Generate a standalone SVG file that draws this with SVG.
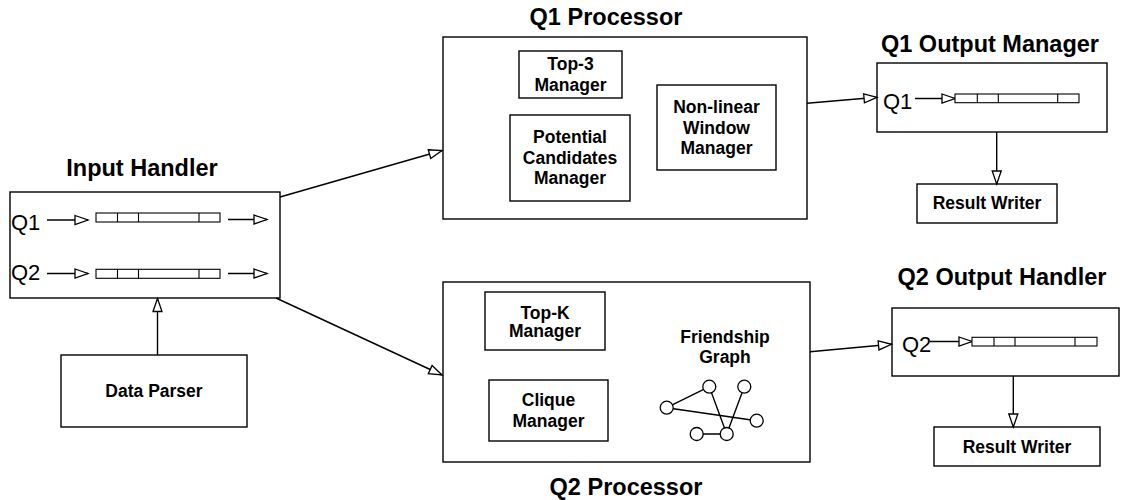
<svg xmlns="http://www.w3.org/2000/svg" width="1121" height="500" viewBox="0 0 1121 500">
<style>
.box{fill:#fff;stroke:#000;stroke-width:1.4}
.q{fill:#fff;stroke:#000;stroke-width:1.1}
.ln{fill:none;stroke:#000;stroke-width:1.4}
.title{font-family:"Liberation Sans",Arial,sans-serif;font-weight:bold;font-size:23.5px;text-anchor:middle;fill:#000}
.lbl{font-family:"Liberation Sans",Arial,sans-serif;font-weight:bold;font-size:17.5px;text-anchor:middle;fill:#000}
.ql{font-family:"Liberation Sans",Arial,sans-serif;font-size:22px;fill:#000}
.nd{fill:#fff;stroke:#000;stroke-width:1.3}
</style>
<defs>
<marker id="arr" markerUnits="userSpaceOnUse" markerWidth="15" markerHeight="11" refX="13" refY="4.5" orient="auto" overflow="visible">
<path d="M0,0 L13,4.5 L0,9 Z" fill="#fff" stroke="#000" stroke-width="1.3"/>
</marker>
</defs>
<rect width="1121" height="500" fill="#fff"/>

<g id="input-handler">
<text class="title" x="142" y="176">Input Handler</text>
<rect class="box" x="10" y="192" width="270" height="106"/>
<text class="ql" x="11" y="230">Q1</text>
<text class="ql" x="11" y="280">Q2</text>
<line class="ln" x1="47" y1="220" x2="88" y2="220" marker-end="url(#arr)"/>
<line class="ln" x1="47" y1="273.5" x2="88" y2="273.5" marker-end="url(#arr)"/>
<rect class="q" x="96" y="213" width="124" height="9"/>
<path class="q" d="M117.5,213v9M138.5,213v9M199,213v9"/>
<rect class="q" x="96" y="269.3" width="124" height="9"/>
<path class="q" d="M117.5,269.3v9M138.5,269.3v9M199,269.3v9"/>
<line class="ln" x1="228" y1="219.5" x2="267" y2="219.5" marker-end="url(#arr)"/>
<line class="ln" x1="228" y1="273.5" x2="267" y2="273.5" marker-end="url(#arr)"/>
</g>

<g id="data-parser">
<rect class="box" x="61" y="355" width="186" height="72"/>
<text class="lbl" x="154" y="397">Data Parser</text>
</g>

<g id="q1-processor">
<text class="title" x="606" y="25">Q1 Processor</text>
<rect class="box" x="443" y="37" width="364" height="182"/>
<rect class="box" x="519" y="51" width="103" height="47"/>
<text class="lbl" x="570.5" y="70">Top-3</text>
<text class="lbl" x="570.5" y="91">Manager</text>
<rect class="box" x="510" y="115" width="120" height="86"/>
<text class="lbl" x="570" y="143">Potential</text>
<text class="lbl" x="570" y="163.5">Candidates</text>
<text class="lbl" x="570" y="184">Manager</text>
<rect class="box" x="657" y="85" width="119" height="85"/>
<text class="lbl" x="716.5" y="113">Non-linear</text>
<text class="lbl" x="716.5" y="134">Window</text>
<text class="lbl" x="716.5" y="154">Manager</text>
</g>

<g id="q2-processor">
<text class="title" x="626" y="495">Q2 Processor</text>
<rect class="box" x="443" y="282" width="367" height="180"/>
<rect class="box" x="485" y="292" width="120" height="58"/>
<text class="lbl" x="545" y="319">Top-K</text>
<text class="lbl" x="545" y="337">Manager</text>
<rect class="box" x="489" y="380" width="119" height="61"/>
<text class="lbl" x="548.5" y="406">Clique</text>
<text class="lbl" x="548.5" y="426.5">Manager</text>
<text class="lbl" x="725" y="343">Friendship</text>
<text class="lbl" x="725" y="363">Graph</text>
<g id="friendship-graph">
<path class="ln" d="M666.7,407.7L709.3,386.7M666.7,407.7L756.7,420.7M709.3,386.7L726.7,434M744.3,386.7L726.7,434M696.7,434L726.7,434"/>
<circle class="nd" cx="709.3" cy="386.7" r="6.5"/>
<circle class="nd" cx="744.3" cy="386.7" r="6.5"/>
<circle class="nd" cx="666.7" cy="407.7" r="6.5"/>
<circle class="nd" cx="756.7" cy="420.7" r="6.5"/>
<circle class="nd" cx="696.7" cy="434" r="6.5"/>
<circle class="nd" cx="726.7" cy="434" r="6.5"/>
</g>
</g>

<g id="q1-output-manager">
<text class="title" x="990" y="52">Q1 Output Manager</text>
<rect class="box" x="877" y="63" width="230" height="69"/>
<text class="ql" x="883" y="109">Q1</text>
<line class="ln" x1="915" y1="98.5" x2="955" y2="98.5" marker-end="url(#arr)"/>
<rect class="q" x="955" y="94" width="124" height="8.7"/>
<path class="q" d="M977.3,94v8.7M998.3,94v8.7M1057.7,94v8.7"/>
</g>

<g id="q1-result-writer">
<rect class="box" x="917" y="184" width="140" height="39"/>
<text class="lbl" x="987" y="208.5">Result Writer</text>
</g>

<g id="q2-output-handler">
<text class="title" x="1002" y="285">Q2 Output Handler</text>
<rect class="box" x="892" y="308" width="227" height="68"/>
<text class="ql" x="902" y="352">Q2</text>
<line class="ln" x1="930" y1="341.5" x2="972" y2="341.5" marker-end="url(#arr)"/>
<rect class="q" x="972" y="337.3" width="125" height="8.7"/>
<path class="q" d="M994,337.3v8.7M1015,337.3v8.7M1075,337.3v8.7"/>
</g>

<g id="q2-result-writer">
<rect class="box" x="934" y="427" width="166" height="39"/>
<text class="lbl" x="1017" y="453">Result Writer</text>
</g>

<g id="connectors">
<line class="ln" x1="157.5" y1="355" x2="157.5" y2="298.5" marker-end="url(#arr)"/>
<line class="ln" x1="280" y1="197" x2="442" y2="150.5" marker-end="url(#arr)"/>
<line class="ln" x1="276" y1="298" x2="442" y2="375" marker-end="url(#arr)"/>
<line class="ln" x1="807" y1="103.3" x2="877" y2="97.3" marker-end="url(#arr)"/>
<line class="ln" x1="810" y1="351.7" x2="891.5" y2="344.3" marker-end="url(#arr)"/>
<line class="ln" x1="996.7" y1="132" x2="996.7" y2="184" marker-end="url(#arr)"/>
<line class="ln" x1="1013.3" y1="376" x2="1013.3" y2="427" marker-end="url(#arr)"/>
</g>
</svg>
